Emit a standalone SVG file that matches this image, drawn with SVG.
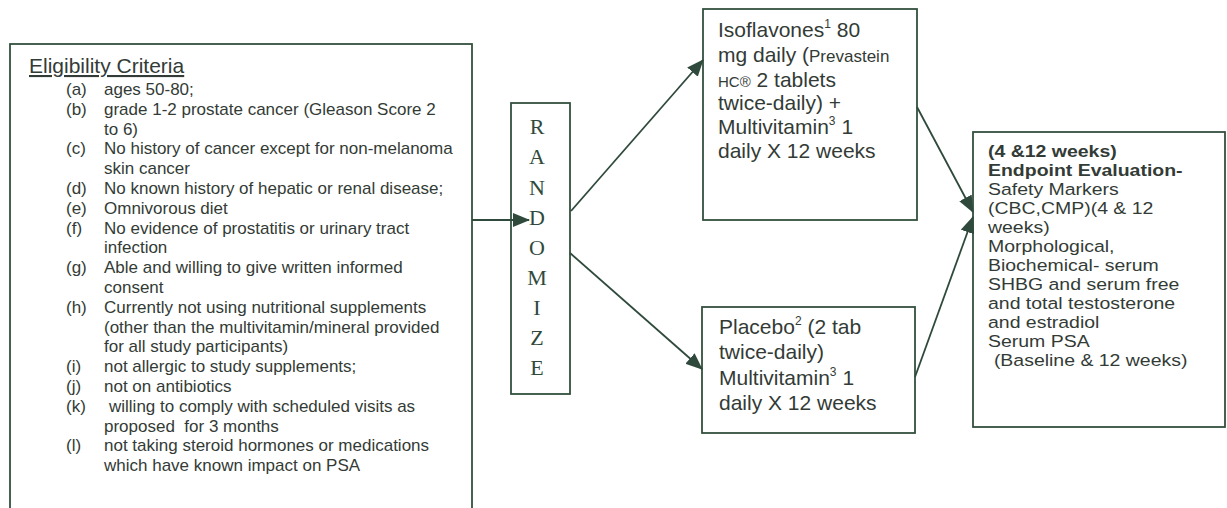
<svg xmlns="http://www.w3.org/2000/svg" width="1227" height="508" viewBox="0 0 1227 508">
<style>
.box{fill:#fff;stroke:#34503f;stroke-width:1.8}
.t{font-family:"Liberation Sans",Arial,sans-serif;fill:#333b36}
.el{font-size:17px}
.md{font-size:21px}
.ep{font-size:16.5px}
.b{font-weight:bold}
.rz{font-family:"Liberation Serif","Times New Roman",serif;font-size:22px;fill:#2f4a3c;text-anchor:middle}
.c{stroke:#2f4a3c;stroke-width:1.8;fill:none}
</style>
<defs>
<marker id="ah" markerWidth="18" markerHeight="14" refX="16" refY="7" orient="auto" markerUnits="userSpaceOnUse">
<path d="M0,0 L17,7 L0,14 Z" fill="#2f4a3c"/>
</marker>
</defs>
<rect width="1227" height="508" fill="#fff"/>
<g id="eligibility">
<rect class="box" x="10" y="44" width="462" height="480"/>
<text class="t" x="29" y="73" font-size="21" text-decoration="underline">Eligibility Criteria</text>
<g class="t el">
<text x="66" y="95">(a)</text><text x="104" y="95">ages 50-80;</text>
<text x="66" y="114.8">(b)</text><text x="104" y="114.8">grade 1-2 prostate cancer (Gleason Score 2</text>
<text x="104" y="134.6">to 6)</text>
<text x="66" y="154.4">(c)</text><text x="104" y="154.4">No history of cancer except for non-melanoma</text>
<text x="104" y="174.2">skin cancer</text>
<text x="66" y="194">(d)</text><text x="104" y="194">No known history of hepatic or renal disease;</text>
<text x="66" y="213.8">(e)</text><text x="104" y="213.8">Omnivorous diet</text>
<text x="66" y="233.6">(f)</text><text x="104" y="233.6">No evidence of prostatitis or urinary tract</text>
<text x="104" y="253.4">infection</text>
<text x="66" y="273.2">(g)</text><text x="104" y="273.2">Able and willing to give written informed</text>
<text x="104" y="293">consent</text>
<text x="66" y="312.8">(h)</text><text x="104" y="312.8">Currently not using nutritional supplements</text>
<text x="104" y="332.6">(other than the multivitamin/mineral provided</text>
<text x="104" y="352.4">for all study participants)</text>
<text x="66" y="372.2">(i)</text><text x="104" y="372.2">not allergic to study supplements;</text>
<text x="66" y="392">(j)</text><text x="104" y="392">not on antibiotics</text>
<text x="66" y="411.8">(k)</text><text x="109" y="411.8">willing to comply with scheduled visits as</text>
<text x="104" y="431.6" xml:space="preserve">proposed  for 3 months</text>
<text x="66" y="451.4">(l)</text><text x="104" y="451.4">not taking steroid hormones or medications</text>
<text x="104" y="471.2">which have known impact on PSA</text>
</g>
</g>
<g id="randomize">
<rect class="box" x="511" y="103" width="59" height="291"/>
<text class="rz" x="537" y="134">R</text>
<text class="rz" x="537" y="164">A</text>
<text class="rz" x="537" y="194.5">N</text>
<text class="rz" x="537" y="224.5">D</text>
<text class="rz" x="537" y="254.5">O</text>
<text class="rz" x="537" y="284.5">M</text>
<text class="rz" x="537" y="315">I</text>
<text class="rz" x="537" y="345">Z</text>
<text class="rz" x="537" y="375">E</text>
</g>
<g id="isoflavones">
<rect class="box" x="703" y="9" width="214" height="211"/>
<g class="t md">
<text x="718" y="37">Isoflavones<tspan font-size="12" dy="-9">1</tspan><tspan dy="9"> 80</tspan></text>
<text x="718" y="62">mg daily (<tspan font-size="17">Prevastein</tspan></text>
<text x="718" y="87"><tspan font-size="15">HC®</tspan> 2 tablets</text>
<text x="718" y="110">twice-daily) +</text>
<text x="718" y="134">Multivitamin<tspan font-size="12" dy="-9">3</tspan><tspan dy="9"> 1</tspan></text>
<text x="718" y="158">daily X 12 weeks</text>
</g>
</g>
<g id="placebo">
<rect class="box" x="702" y="307" width="213" height="126"/>
<g class="t md">
<text x="719" y="334">Placebo<tspan font-size="12" dy="-9">2</tspan><tspan dy="9"> (2 tab</tspan></text>
<text x="719" y="359">twice-daily)</text>
<text x="719" y="385">Multivitamin<tspan font-size="12" dy="-9">3</tspan><tspan dy="9"> 1</tspan></text>
<text x="719" y="410">daily X 12 weeks</text>
</g>
</g>
<g id="endpoint">
<rect class="box" x="973" y="132" width="252" height="295"/>
<g class="t ep" transform="translate(988,0) scale(1.18,1)">
<text class="b" x="0" y="157">(4 &amp;12 weeks)</text>
<text class="b" x="0" y="176">Endpoint Evaluation-</text>
<text x="0" y="195">Safety Markers</text>
<text x="0" y="214">(CBC,CMP)(4 &amp; 12</text>
<text x="0" y="233">weeks)</text>
<text x="0" y="252">Morphological,</text>
<text x="0" y="271">Biochemical- serum</text>
<text x="0" y="290">SHBG and serum free</text>
<text x="0" y="309">and total testosterone</text>
<text x="0" y="328">and estradiol</text>
<text x="0" y="347">Serum PSA</text>
<text x="5" y="366">(Baseline &amp; 12 weeks)</text>
</g>
</g>
<g id="connectors">
<line class="c" x1="472" y1="220" x2="529" y2="220" marker-end="url(#ah)"/>
<line class="c" x1="571" y1="211" x2="703" y2="60" marker-end="url(#ah)"/>
<line class="c" x1="570" y1="253" x2="702" y2="369" marker-end="url(#ah)"/>
<line class="c" x1="917" y1="107" x2="973" y2="212" marker-end="url(#ah)"/>
<line class="c" x1="915" y1="377" x2="973" y2="217" marker-end="url(#ah)"/>
</g>
</svg>
